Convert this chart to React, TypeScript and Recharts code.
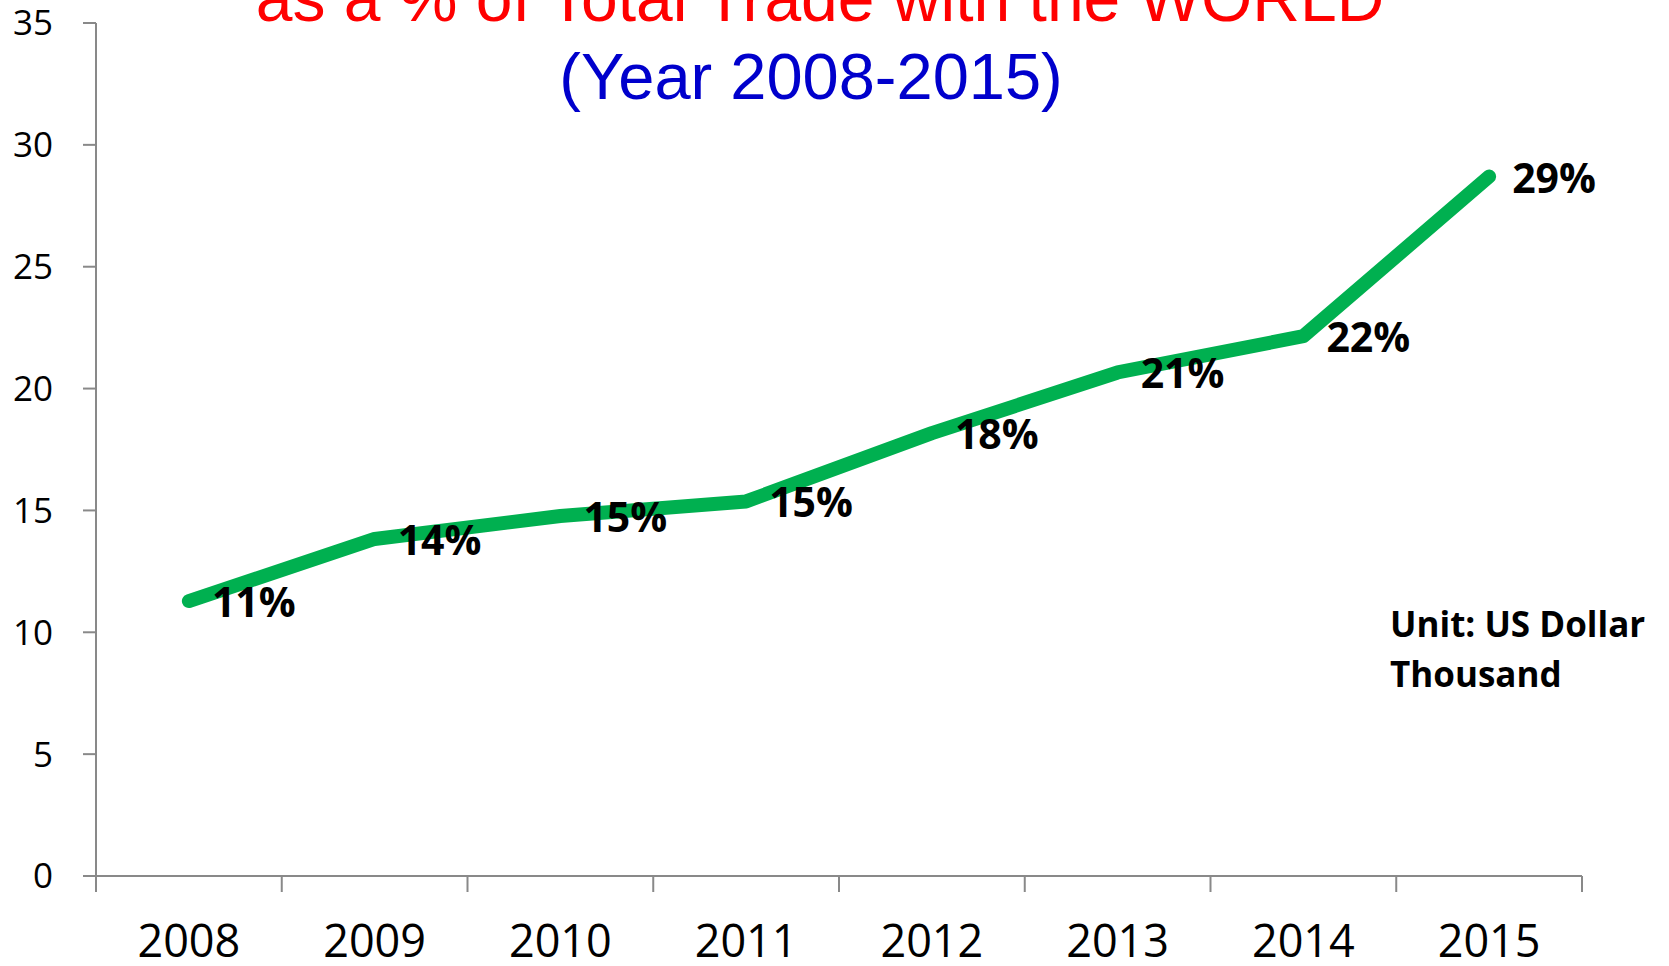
import { LineChart, Line, XAxis, YAxis, LabelList } from "recharts";

const years = ["2008", "2009", "2010", "2011", "2012", "2013", "2014", "2015"];
const shares = [11.28, 13.83, 14.77, 15.37, 18.17, 20.66, 22.15, 28.7];
const shareLabels = ["11%", "14%", "15%", "15%", "18%", "21%", "22%", "29%"];
const yTicks = [0, 5, 10, 15, 20, 25, 30, 35];
const xBoundaries = [0, 1, 2, 3, 4, 5, 6, 7, 8];

const W = 1669;
const H = 966;
const MARGIN = { top: 23, right: 87, bottom: 0, left: 0 };
const Y_AXIS_W = 96;
const BAND = (W - MARGIN.left - MARGIN.right - Y_AXIS_W) / years.length;

const chartData = years.map((year, i) => ({
  year,
  pos: i + 0.5,
  share: shares[i],
  label: shareLabels[i],
}));

const axisGrey = "#898989";

// year labels sit in the middle of each band, tick marks on the band edges
function YearTick(props: any) {
  const { x, y, payload } = props;
  const idx = payload.value;
  if (idx >= years.length) return null;
  return (
    <text
      x={x + BAND / 2}
      y={y + 65}
      textAnchor="middle"
      fontFamily="'Open Sans', sans-serif"
      fontSize={45}
      fill="#000"
    >
      {years[idx]}
    </text>
  );
}

function PointLabel(props: any) {
  const { x, y, value } = props;
  return (
    <text
      x={x + 23}
      y={y + 16}
      fontFamily="'Open Sans', sans-serif"
      fontWeight="bold"
      fontSize={41}
      fill="#000"
    >
      {value}
    </text>
  );
}

export default function App() {
  return (
    <div style={{ position: "absolute", left: 0, top: 0, width: W, height: H, background: "#fff" }}>
      <LineChart width={W} height={H} data={chartData} margin={MARGIN}>
        <XAxis
          dataKey="pos"
          type="number"
          domain={[0, 8]}
          ticks={xBoundaries}
          interval={0}
          height={90}
          tickSize={16}
          tickMargin={0}
          tick={<YearTick />}
          stroke={axisGrey}
          strokeWidth={2}
        />
        <YAxis
          domain={[0, 35]}
          ticks={yTicks}
          interval={0}
          width={Y_AXIS_W}
          tickSize={13}
          tickMargin={30}
          stroke={axisGrey}
          strokeWidth={2}
          tick={{ fill: "#000", fontSize: 35, fontFamily: "'Open Sans', sans-serif" }}
        />
        <Line
          type="linear"
          dataKey="share"
          stroke="#00B050"
          strokeWidth={14}
          strokeLinecap="round"
          strokeLinejoin="round"
          dot={false}
          activeDot={false}
          isAnimationActive={false}
        >
          <LabelList dataKey="label" content={<PointLabel />} />
        </Line>
      </LineChart>
      <svg
        width={W}
        height={H}
        style={{ position: "absolute", left: 0, top: 0, pointerEvents: "none" }}
      >
        <text
          x={820}
          y={21}
          textAnchor="middle"
          fontFamily="'Liberation Sans', Arial, sans-serif"
          fontSize={66}
          fill="#FF0000"
        >
          as a % of Total Trade with the WORLD
        </text>
        <text
          x={811}
          y={99}
          textAnchor="middle"
          fontFamily="'Liberation Sans', Arial, sans-serif"
          fontSize={65}
          fill="#0000CC"
        >
          (Year 2008-2015)
        </text>
        <text
          x={1390}
          fontFamily="'Open Sans', sans-serif"
          fontWeight="bold"
          fontSize={35}
          fill="#000"
        >
          <tspan x={1390} y={637}>Unit: US Dollar</tspan>
          <tspan x={1390} y={687}>Thousand</tspan>
        </text>
      </svg>
    </div>
  );
}
